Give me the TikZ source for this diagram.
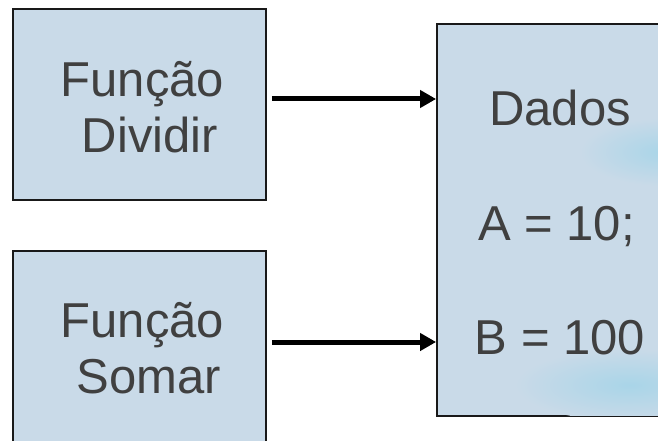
\documentclass[tikz,border=0pt]{standalone}
\usepackage{fontspec}
\setmainfont{Liberation Sans}
\usetikzlibrary{arrows.meta}
\definecolor{boxfill}{HTML}{C9DAE8}
\definecolor{inkgray}{HTML}{404040}
\definecolor{cloud}{HTML}{A9D5E8}
\begin{document}
\begin{tikzpicture}[x=1pt,y=-1pt,
  block/.style={draw=black!90, line width=1.8pt, fill=boxfill, inner sep=0pt},
  caption/.style={anchor=base, text=inkgray, font=\fontsize{49}{58}\selectfont, inner sep=0pt},
  link/.style={line width=5pt, -{Triangle[length=16pt,width=17pt]}}]
\useasboundingbox (0,0) rectangle (658,441);
\fill[white] (0,0) rectangle (658,441);

% function boxes and the data box
\node[block, minimum width=253pt, minimum height=191pt] (dividir) at (139.5,104.5) {};
\node[block, minimum width=253pt, minimum height=191pt] (somar) at (139.5,346.5) {};
\node[block, minimum width=246pt, minimum height=392pt] (dados) at (560,220) {};

% soft clouds in the data box
\begin{scope}
  \clip (438,25) rectangle (700,415);
  \shade[inner color=cloud, outer color=boxfill] (665,152) ellipse (85pt and 34pt);
  \shade[inner color=cloud, outer color=boxfill] (630,385) ellipse (115pt and 36pt);
\end{scope}

% texts
\node[caption] (f1) at (142.5,97) {Função};
\node[caption] (f2) at (150,152) {Dividir};
\node[caption] (g1) at (142.5,337) {Função};
\node[caption] (g2) at (149,393) {Somar};
\node[caption] (d1) at (560,125) {Dados};
\node[caption] (d2) at (556.5,240) {A = 10;};
\node[caption] (d3) at (560,354) {B = 100};

% connectors
\coordinate (s1) at ([xshift=5pt,yshift=5.5pt]dividir.east);
\coordinate (s2) at ([xshift=5pt,yshift=4.5pt]somar.east);
\draw[link] (s1) -- (s1 -| dados.west);
\draw[link] (s2) -- (s2 -| dados.west);
\end{tikzpicture}
\end{document}
